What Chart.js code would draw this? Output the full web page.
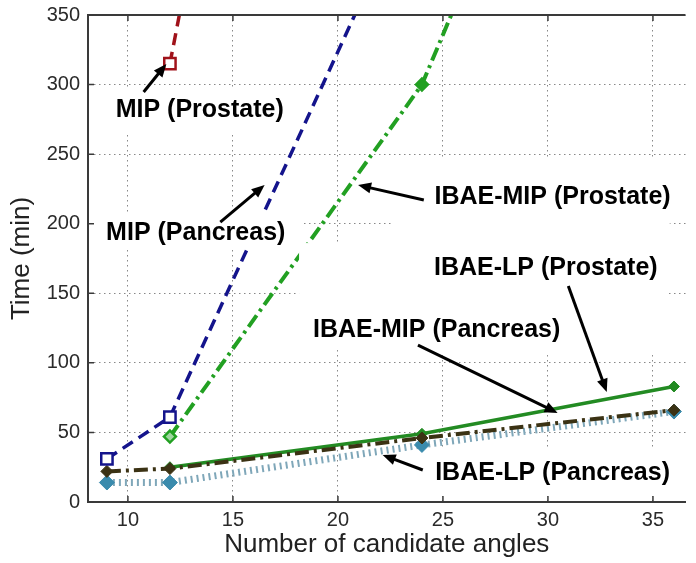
<!DOCTYPE html>
<html>
<head>
<meta charset="utf-8">
<script src="https://cdn.jsdelivr.net/npm/chart.js@4.4.1/dist/chart.umd.min.js"></script>
<style>
  html, body { margin: 0; padding: 0; background: #fff; }
</style>
</head>
<body>
<canvas id="chart" width="696" height="563"></canvas>
<script>
// number of candidate angles
const angles = [9, 12, 24, 36];

// time (min); null = no point for that angle
const mipProstate     = [null, 315, 1250, null];
const mipPancreas     = [31, 61, 455, null];
const ibaeMipProstate = [null, 47, 300, 730];
const ibaeLpProstate  = [null, 25, 49, 83];
const ibaeMipPancreas = [22, 24, 46, 66];
const ibaeLpPancreas  = [14, 14, 41, 65];

const xTicks = [10, 15, 20, 25, 30, 35];
const yTicks = [0, 50, 100, 150, 200, 250, 300, 350];

// callout labels, in data units: text centre, white box behind, arrow from -> to
const callouts = [
  { text: 'MIP (Prostate)',      at: [13.42, 281.7], box: [9.34, 17.54, 297.5, 265.2], arrow: [10.75, 294.7, 11.83, 314.8] },
  { text: 'MIP (Pancreas)',      at: [13.23, 193.3], box: [8.27, 18.33, 207.7, 182.5], arrow: [14.4, 201.2, 16.51, 227.8] },
  { text: 'IBAE-MIP (Prostate)', at: [30.22, 219.2], box: [22.59, 35.8, 247.2, 186.1], arrow: [24.09, 217.0, 20.96, 227.8] },
  { text: 'IBAE-LP (Prostate)',  at: [29.9, 168.2],  box: [24.09, 35.7, 186.1, 105.6], arrow: [30.97, 155.2, 32.8, 79.1] },
  { text: 'IBAE-MIP (Pancreas)', at: [24.7, 123.6],  box: [18.15, 31.58, 186.1, 109.2], arrow: [23.81, 112.8, 30.46, 64.0] },
  { text: 'IBAE-LP (Pancreas)',  at: [30.22, 20.8],  box: [24.33, 36.36, 37.4, 4.3], arrow: [24.04, 23.0, 22.13, 33.8] }
];

const FONT = '"Liberation Sans", Arial, Helvetica, sans-serif';
const AXIS_COLOR = '#3a3a3a';

function points(values) {
  return angles
    .map(function (a, i) { return { x: a, y: values[i] }; })
    .filter(function (p) { return p.y !== null; });
}

function drawArrow(ctx, x1, y1, x2, y2) {
  const ang = Math.atan2(y2 - y1, x2 - x1);
  const head = 13, half = 5.5;
  ctx.beginPath();
  ctx.moveTo(x1, y1);
  ctx.lineTo(x2 - Math.cos(ang) * head * 0.8, y2 - Math.sin(ang) * head * 0.8);
  ctx.stroke();
  ctx.beginPath();
  ctx.moveTo(x2, y2);
  ctx.lineTo(x2 - head * Math.cos(ang) + half * Math.sin(ang), y2 - head * Math.sin(ang) - half * Math.cos(ang));
  ctx.lineTo(x2 - head * Math.cos(ang) - half * Math.sin(ang), y2 - head * Math.sin(ang) + half * Math.cos(ang));
  ctx.closePath();
  ctx.fill();
}

const calloutPlugin = {
  id: 'callouts',
  afterDatasetsDraw(chart) {
    const ctx = chart.ctx;
    const area = chart.chartArea;
    const sx = chart.scales.x, sy = chart.scales.y;
    ctx.save();
    ctx.beginPath();
    ctx.rect(area.left, area.top, area.right - area.left, area.bottom - area.top);
    ctx.clip();

    // white boxes behind the labels
    ctx.fillStyle = '#fff';
    callouts.forEach(function (c) {
      const l = sx.getPixelForValue(c.box[0]), r = sx.getPixelForValue(c.box[1]);
      const t = sy.getPixelForValue(c.box[2]), b = sy.getPixelForValue(c.box[3]);
      ctx.fillRect(l, t, r - l, b - t);
    });
    ctx.restore();

    // top frame line and inward ticks (matlab look)
    ctx.save();
    ctx.strokeStyle = AXIS_COLOR;
    ctx.lineWidth = 2;
    ctx.beginPath();
    ctx.moveTo(area.left - 1, area.top);
    ctx.lineTo(area.right, area.top);
    ctx.stroke();
    ctx.lineWidth = 1.5;
    ctx.beginPath();
    xTicks.forEach(function (v) {
      const px = sx.getPixelForValue(v);
      ctx.moveTo(px, area.bottom); ctx.lineTo(px, area.bottom - 6);
      ctx.moveTo(px, area.top); ctx.lineTo(px, area.top + 6);
    });
    yTicks.forEach(function (v) {
      const py = sy.getPixelForValue(v);
      ctx.moveTo(area.left, py); ctx.lineTo(area.left + 6, py);
    });
    ctx.stroke();
    ctx.restore();

    // labels and arrows
    ctx.save();
    ctx.font = 'bold 25px ' + FONT;
    ctx.textAlign = 'center';
    ctx.textBaseline = 'middle';
    ctx.fillStyle = '#000';
    ctx.strokeStyle = '#000';
    ctx.lineWidth = 3;
    callouts.forEach(function (c) {
      ctx.fillText(c.text, sx.getPixelForValue(c.at[0]), sy.getPixelForValue(c.at[1]));
      drawArrow(ctx,
        sx.getPixelForValue(c.arrow[0]), sy.getPixelForValue(c.arrow[1]),
        sx.getPixelForValue(c.arrow[2]), sy.getPixelForValue(c.arrow[3]));
    });
    ctx.restore();
  }
};

const dashDot = [14, 5, 3, 5];

new Chart(document.getElementById('chart').getContext('2d'), {
  type: 'line',
  data: {
    datasets: [
      {
        label: 'MIP (Prostate)',
        data: points(mipProstate),
        borderColor: '#a0121a',
        borderWidth: 3.5,
        borderDash: [12, 7],
        pointStyle: 'rect',
        pointRadius: 8,
        pointBorderWidth: 2.5,
        pointBorderColor: '#a0121a',
        pointBackgroundColor: '#fff'
      },
      {
        label: 'MIP (Pancreas)',
        data: points(mipPancreas),
        borderColor: '#14148c',
        borderWidth: 3.5,
        borderDash: [12, 7],
        pointStyle: 'rect',
        pointRadius: 8,
        pointBorderWidth: 2.5,
        pointBorderColor: '#14148c',
        pointBackgroundColor: '#fff'
      },
      {
        label: 'IBAE-MIP (Prostate)',
        data: points(ibaeMipProstate),
        borderColor: '#22a022',
        borderWidth: 4,
        borderDash: dashDot,
        pointStyle: 'rectRot',
        pointRadius: 6,
        pointBorderWidth: 2.5,
        pointBorderColor: '#22a022',
        pointBackgroundColor: ['#9fd69f', '#22a022', '#22a022']
      },
      {
        label: 'IBAE-MIP (Pancreas)',
        data: points(ibaeMipPancreas),
        borderColor: '#3b3214',
        borderWidth: 4,
        borderDash: dashDot,
        pointStyle: 'rectRot',
        pointRadius: 6,
        pointBorderWidth: 1,
        pointBorderColor: '#3b3214',
        pointBackgroundColor: '#3b3214'
      },
      {
        label: 'IBAE-LP (Prostate)',
        data: points(ibaeLpProstate),
        borderColor: '#238b23',
        borderWidth: 3.5,
        pointStyle: 'rectRot',
        pointRadius: 5.5,
        pointBorderWidth: 1,
        pointBorderColor: '#238b23',
        pointBackgroundColor: '#238b23'
      },
      {
        label: 'IBAE-LP (Pancreas)',
        data: points(ibaeLpPancreas),
        borderColor: '#7fa7b9',
        borderWidth: 7,
        borderDash: [2, 4],
        pointStyle: 'rectRot',
        pointRadius: 7.5,
        pointBorderWidth: 1,
        pointBorderColor: '#3a8bad',
        pointBackgroundColor: '#3a8bad'
      }
    ]
  },
  options: {
    responsive: false,
    devicePixelRatio: 1,
    animation: false,
    layout: { padding: { top: 15, right: 0, bottom: 0, left: 0 } },
    plugins: {
      legend: { display: false },
      tooltip: { enabled: false }
    },
    scales: {
      x: {
        type: 'linear',
        min: 8.1,
        max: 36.55,
        afterBuildTicks: function (scale) {
          scale.ticks = xTicks.map(function (v) { return { value: v }; });
        },
        afterFit: function (scale) {
          scale.height = 61;
          scale.paddingLeft = 0;
          scale.paddingRight = 0;
        },
        ticks: {
          autoSkip: false,
          maxRotation: 0,
          padding: 6,
          color: '#2a2a2a',
          font: { family: FONT, size: 20 }
        },
        grid: { color: '#888', lineWidth: 1, drawTicks: false },
        border: { color: AXIS_COLOR, width: 2, dash: [1.5, 3.5] },
        title: {
          display: true,
          text: 'Number of candidate angles',
          color: '#222',
          font: { family: FONT, size: 26 },
          padding: { top: 0, bottom: 3 }
        }
      },
      y: {
        min: 0,
        max: 350,
        afterBuildTicks: function (scale) {
          scale.ticks = yTicks.map(function (v) { return { value: v }; });
        },
        afterFit: function (scale) {
          scale.width = 88;
          scale.paddingTop = 0;
          scale.paddingBottom = 0;
        },
        ticks: {
          padding: 8,
          color: '#2a2a2a',
          font: { family: FONT, size: 20 }
        },
        grid: { color: '#888', lineWidth: 1, drawTicks: false },
        border: { color: AXIS_COLOR, width: 2, dash: [1.5, 3.5] },
        title: {
          display: true,
          text: 'Time (min)',
          color: '#222',
          font: { family: FONT, size: 26 },
          padding: { top: 6, bottom: 0 }
        }
      }
    }
  },
  plugins: [calloutPlugin]
});
</script>
</body>
</html>
